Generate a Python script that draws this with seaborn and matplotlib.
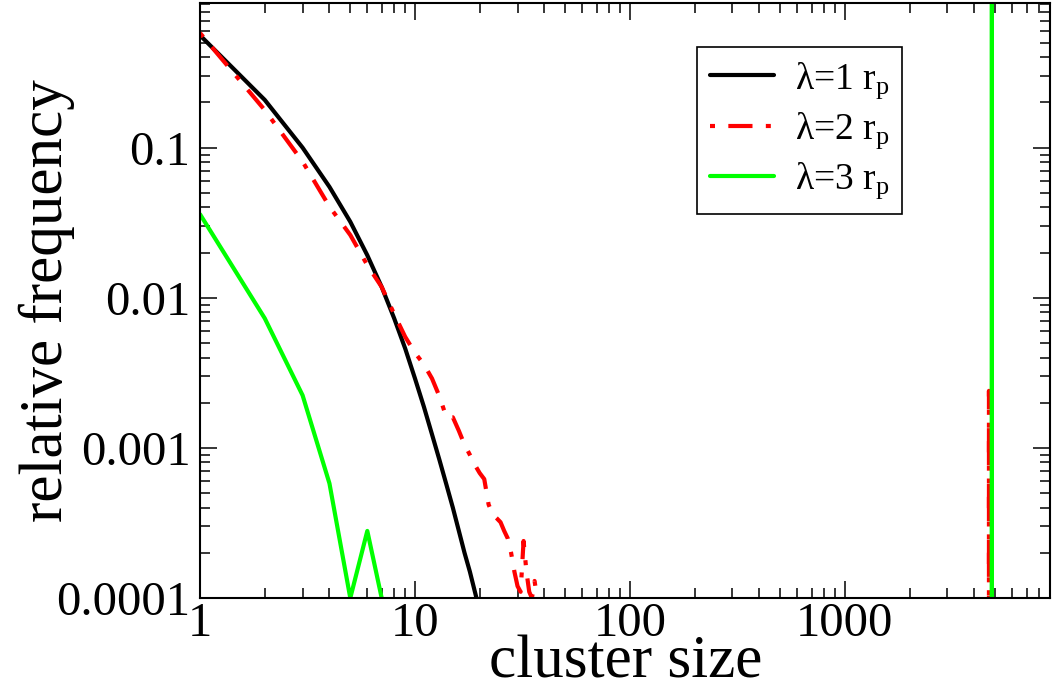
import numpy as np
import pandas as pd
import matplotlib
matplotlib.use("Agg")
import matplotlib.pyplot as plt
import matplotlib.ticker as mticker
import seaborn as sns

# cluster size distributions
size_l1 = [1, 2, 3, 4, 5, 6, 7, 8, 9, 10, 11, 12, 13, 14, 15, 16, 17, 18, 19, 20]
freq_l1 = [0.56, 0.208, 0.1, 0.0548, 0.0321, 0.0192, 0.0118, 0.0073, 0.0046, 0.0029,
           0.00188, 0.00123, 0.00083, 0.00057, 0.0004, 0.00028, 0.0002, 0.00015,
           0.00011, 0.000082]

size_l2 = [1, 2, 3, 4, 5, 6, 7, 8, 9, 10, 11, 12, 13, 14, 15, 16, 17, 18, 19, 20,
           21, 22, 23, 24, 25, 26, 27, 28, 29, 30, 31, 32, 33, 34, 35, 36, 37, 38,
           4679, 4680, 4681]
freq_l2 = [0.58, 0.178, 0.0807, 0.0405, 0.0262, 0.0165, 0.0118, 0.0078, 0.0055, 0.0043,
           0.0036, 0.0029, 0.0022, 0.0016, 0.0016, 0.0013, 0.00105, 0.0009, 0.00077,
           0.00068, 0.00062, 0.00042, 0.00036, 0.00034, 0.00032, 0.00028, 0.00025,
           0.0002, 0.00015, 0.00012, 0.00011, 0.00024, 0.00015, 0.00011, 0.0001,
           0.00013, 0.0001, 0.0,
           0.0, 0.0024, 0.0]

size_l3 = [1, 2, 3, 4, 5, 6, 7, 8, 4829, 4830, 4831]
freq_l3 = [0.036, 0.0073, 0.00224, 0.00058, 0.0001, 0.00028, 0.0001, 0.0,
           0.0, 1.0, 0.0]

labels = [r"λ=1 r$_\mathrm{p}$", r"λ=2 r$_\mathrm{p}$", r"λ=3 r$_\mathrm{p}$"]
colors = ["black", "#ff0000", "#00ff00"]

xticks = [1, 10, 100, 1000]
xticklabels = ["1", "10", "100", "1000"]
yticks = [0.0001, 0.001, 0.01, 0.1]
yticklabels = ["0.0001", "0.001", "0.01", "0.1"]

df = pd.concat([
    pd.DataFrame({"size": size_l1, "freq": freq_l1, "lam": labels[0]}),
    pd.DataFrame({"size": size_l2, "freq": freq_l2, "lam": labels[1]}),
    pd.DataFrame({"size": size_l3, "freq": freq_l3, "lam": labels[2]}),
], ignore_index=True)

sns.set_style("ticks")
plt.rcParams["font.family"] = ["Liberation Serif", "DejaVu Serif"]
plt.rcParams["mathtext.fontset"] = "custom"
plt.rcParams["mathtext.rm"] = "Liberation Serif"
plt.rcParams["mathtext.it"] = "Liberation Serif:italic"
for key in ["text.color", "axes.labelcolor", "xtick.color", "ytick.color", "axes.edgecolor"]:
    plt.rcParams[key] = "black"

fig = plt.figure(figsize=(10.54, 6.93), dpi=100)
ax = fig.add_axes([0.1898, 0.137, 0.8064, 0.8587])

sns.lineplot(data=df, x="size", y="freq", hue="lam", style="lam",
             palette=dict(zip(labels, colors)),
             dashes={labels[0]: "", labels[1]: (1.2, 3.2, 5.8, 3.2), labels[2]: ""},
             estimator=None, sort=False, linewidth=3, ax=ax)

ax.set_xscale("log")
ax.set_yscale("log")
ax.set_xlim(1, 9000)
ax.set_ylim(0.0001, 0.92)

ax.xaxis.set_major_locator(mticker.FixedLocator(xticks))
ax.xaxis.set_major_formatter(mticker.FixedFormatter(xticklabels))
ax.yaxis.set_major_locator(mticker.FixedLocator(yticks))
ax.yaxis.set_major_formatter(mticker.FixedFormatter(yticklabels))
ax.xaxis.set_minor_locator(mticker.LogLocator(base=10, subs=np.arange(2, 10), numticks=20))
ax.yaxis.set_minor_locator(mticker.LogLocator(base=10, subs=np.arange(2, 10), numticks=20))
ax.xaxis.set_minor_formatter(mticker.NullFormatter())
ax.yaxis.set_minor_formatter(mticker.NullFormatter())

ax.tick_params(which="both", direction="in", top=True, right=True, width=1.1, color="black")
ax.tick_params(which="major", length=12, labelsize=35)
ax.tick_params(which="minor", length=7)
ax.tick_params(axis="x", which="major", pad=3)
ax.tick_params(axis="y", which="major", pad=7)
for sp in ax.spines.values():
    sp.set_linewidth(1.5)

ax.set_xlabel("cluster size", fontsize=44)
ax.set_ylabel("relative frequency", fontsize=44)
ax.xaxis.set_label_coords(0.501, -0.133)
ax.xaxis.label.set_va("baseline")
ax.yaxis.set_label_coords(-0.147, 0.5)

leg = ax.legend(loc="upper right", bbox_to_anchor=(0.826, 0.926), borderaxespad=0,
                fontsize=27, frameon=True, fancybox=False, handlelength=1.7,
                handletextpad=0.55, borderpad=0.35, labelspacing=0.25, title=None)
leg.get_frame().set_edgecolor("black")
leg.get_frame().set_linewidth(1.2)
leg.get_frame().set_alpha(1)

fig.savefig("out.png", dpi=100)
